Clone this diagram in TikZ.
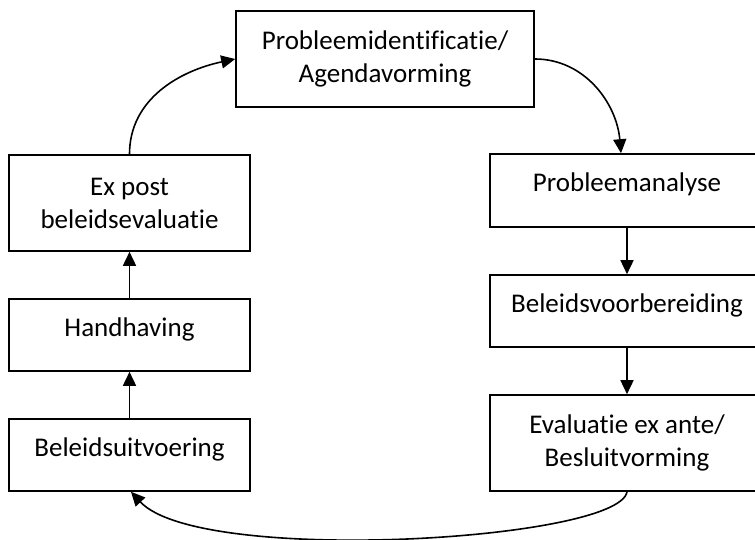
\documentclass[tikz,border=0pt]{standalone}
\usepackage{fontspec}
\setmainfont{Carlito}[Ligatures=NoCommon]
\usetikzlibrary{arrows.meta,calc}

\begin{document}
\begin{tikzpicture}[x=1pt,y=1pt,
  every node/.style={font=\fontsize{27}{33}\selectfont},
  box/.style={draw=black, line width=1.6pt, fill=white, inner sep=0pt, align=center},
  oneline/.style={box, text height=19pt, text depth=16pt},
  flow/.style={draw=black, line width=1.6pt, -{Triangle[length=14pt,width=13pt]}}
]
  \useasboundingbox (0,0) rectangle (755,540);
  \clip (0,0) rectangle (755,540);

  % top of the cycle
  \node[box, minimum width=298pt, minimum height=96pt] (agenda) at (385,481)
    {Probleemidentificatie/\\Agendavorming};

  % right-hand column
  \node[oneline, minimum width=274pt, minimum height=73pt] (analyse) at (627,349.5)
    {Probleemanalyse};
  \node[oneline, minimum width=274pt, minimum height=72pt] (voorb) at (627,229)
    {Beleidsvoorbereiding};
  \node[box, minimum width=274pt, minimum height=96pt] (besluit) at (627,97)
    {Evaluatie ex ante/\\Besluitvorming};

  % left-hand column
  \node[box, minimum width=241pt, minimum height=96pt] (expost) at (129.5,337)
    {Ex post\\beleidsevaluatie};
  \node[oneline, minimum width=241pt, minimum height=72pt] (handh) at (129.5,205)
    {Handhaving};
  \node[oneline, minimum width=241pt, minimum height=72pt] (uitv) at (129.5,85)
    {Beleidsuitvoering};

  % connectors
  \draw[flow] (expost.north) to[out=90, in=192] (agenda.west);
  \draw[flow] (agenda.east) to[out=0, in=95] ($(analyse.north)+(-6,0)$);
  \draw[flow] (analyse.south) -- (voorb.north);
  \draw[flow] (voorb.south) -- (besluit.north);
  \draw[flow] (besluit.south) .. controls ($(besluit.south)+(-8,-49)$)
    and ($(uitv.south)+(70,-74)$) .. ($(uitv.south)+(1.5,0)$);
  \draw[flow] (uitv.north) -- (handh.south);
  \draw[flow] (handh.north) -- (expost.south);
\end{tikzpicture}
\end{document}
